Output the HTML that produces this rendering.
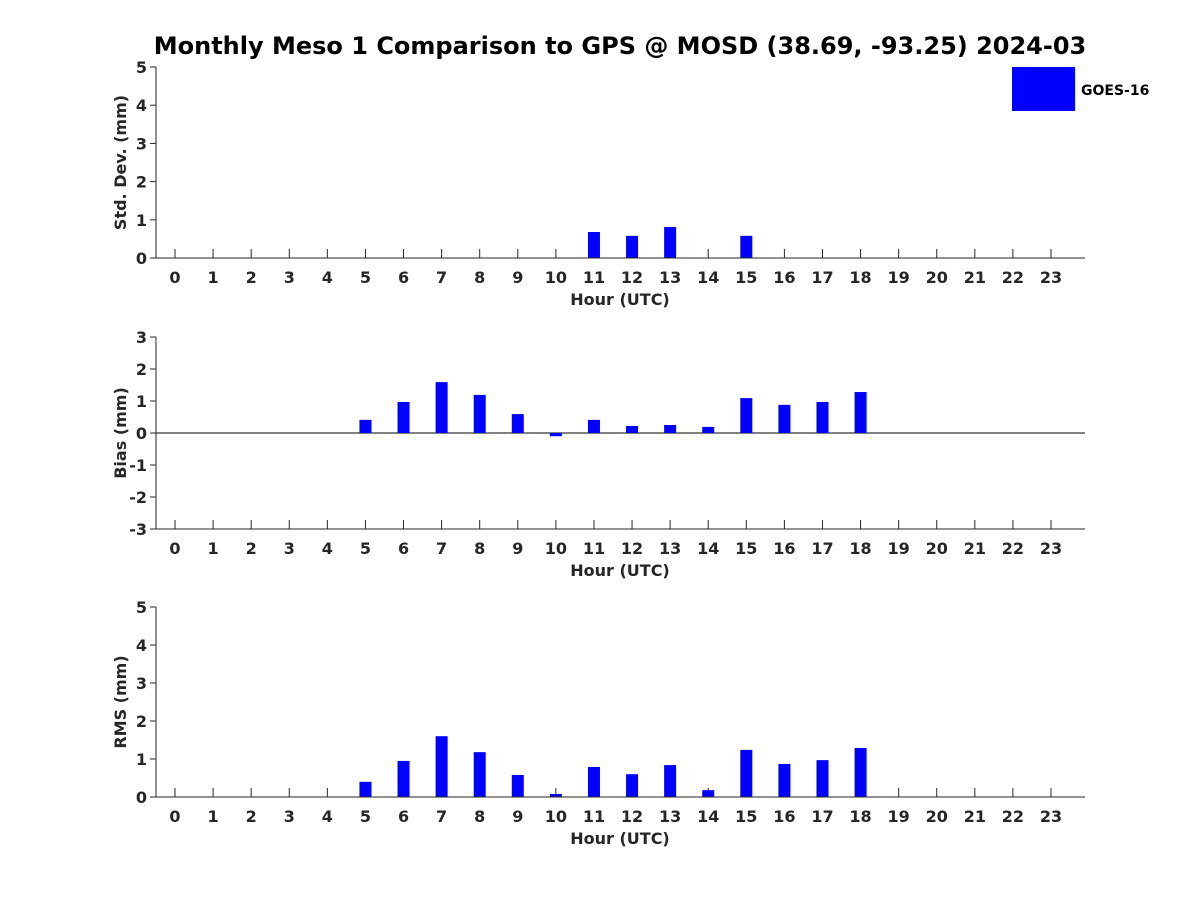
<!DOCTYPE html>
<html><head><meta charset="utf-8"><style>
body{margin:0;background:#fff}
svg text{font-family:"DejaVu Sans","Liberation Sans",sans-serif;font-weight:bold;fill:#262626}
</style></head><body>
<svg width="1200" height="900" id="c">
<text x="620" y="54" font-size="24" text-anchor="middle" fill="#000" style="fill:#000">Monthly Meso 1 Comparison to GPS @ MOSD (38.69, -93.25) 2024-03</text>
<rect x="1012" y="67" width="63" height="44" fill="#0000ff"/>
<text x="1081" y="95" font-size="14" style="fill:#000">GOES-16</text>
</svg>
<script>
const hours=[...Array(24).keys()];
const stdHours=[11,12,13,15];
const stdVals=[0.68,0.58,0.81,0.58];
const biasHours=[5,6,7,8,9,10,11,12,13,14,15,16,17,18];
const biasVals=[0.41,0.97,1.59,1.19,0.59,-0.1,0.41,0.22,0.25,0.19,1.09,0.88,0.97,1.28];
const rmsHours=[5,6,7,8,9,10,11,12,13,14,15,16,17,18];
const rmsVals=[0.4,0.95,1.6,1.18,0.58,0.08,0.79,0.6,0.84,0.18,1.24,0.87,0.97,1.29];
const stdTicks=[0,1,2,3,4,5], biasTicks=[-3,-2,-1,0,1,2,3], rmsTicks=[0,1,2,3,4,5];
const svg=document.getElementById('c');
const NS='http://www.w3.org/2000/svg';
function mk(t,a,p){const e=document.createElementNS(NS,t);for(const k in a)e.setAttribute(k,a[k]);(p||svg).appendChild(e);return e;}
const X0=156,X1=1085;
const xs=h=>175+h*(1051-175)/23;
function panel(name,top,bot,ymin,ymax,ticks,label,hs,vs,zero){
  const g=mk('g',{});
  
  
  const ys=v=>bot-(v-ymin)/(ymax-ymin)*(bot-top);
  hours.forEach(h=>{const t=mk('line',{x1:xs(h),x2:xs(h),y1:bot,y2:bot-9,stroke:'#262626','stroke-width':1},g);
    
    const l=mk('text',{x:xs(h),y:bot+25,'font-size':16,'text-anchor':'middle'},g);l.textContent=h;
    });
  ticks.forEach(v=>{mk('line',{x1:X0,x2:X0-6,y1:ys(v),y2:ys(v),stroke:'#262626'},g);
    const l=mk('text',{x:X0-9,y:ys(v)+6,'font-size':16,'text-anchor':'end'},g);l.textContent=v;
    });
  if(zero){const z=mk('line',{x1:X0,x2:X1,y1:ys(0),y2:ys(0),stroke:'#000'},g);}
  hs.forEach((h,i)=>{const v=vs[i];const y0=ys(0),y1=ys(v);
    const b=mk('rect',{x:xs(h)-6,y:Math.min(y0,y1),width:12,height:Math.abs(y1-y0),fill:'#0000ff'},g);
    });
  mk('line',{x1:X0,x2:X1,y1:bot,y2:bot,stroke:'#262626'},g);
  mk('line',{x1:X0,x2:X0,y1:top,y2:bot,stroke:'#262626'},g);
  const xt=mk('text',{x:620,y:bot+47,'font-size':16,'text-anchor':'middle'},g);xt.textContent='Hour (UTC)';
  
  const cy=(top+bot)/2;
  const yt=mk('text',{x:126,y:cy,'font-size':16,'text-anchor':'middle',transform:`rotate(-90 126 ${cy})`},g);yt.textContent=label;
  
}
panel('std-dev',67,258,0,5,stdTicks,'Std. Dev. (mm)',stdHours,stdVals,false);
panel('bias',337,529,-3,3,biasTicks,'Bias (mm)',biasHours,biasVals,true);
panel('rms',607,797,0,5,rmsTicks,'RMS (mm)',rmsHours,rmsVals,false);
</script>
</body></html>
